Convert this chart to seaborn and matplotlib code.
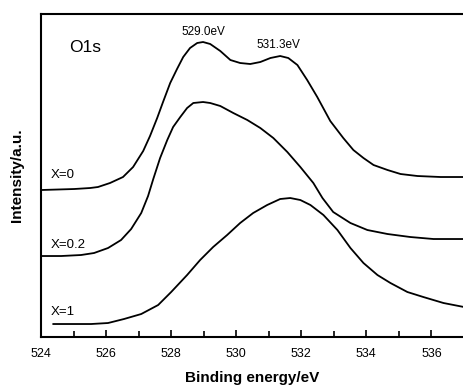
import numpy as np
import pandas as pd
import matplotlib
matplotlib.use("Agg")
import matplotlib.pyplot as plt
import seaborn as sns
from matplotlib.ticker import MultipleLocator

# O1s XPS spectra (intensity in arbitrary units)
e_x0 = [524.00, 525.02, 525.51, 525.75, 526.12, 526.52, 526.83, 527.14, 527.35, 527.57,
        527.75, 527.97, 528.18, 528.37, 528.58, 528.80, 528.98, 529.20, 529.51, 529.82,
        530.12, 530.43, 530.74, 531.05, 531.35, 531.60, 531.88, 532.18, 532.49, 532.89,
        533.29, 533.60, 533.91, 534.22, 534.65, 535.05, 535.57, 536.28, 537.00]
i_x0 = [147, 148, 149, 150, 154, 160, 170, 186, 201, 219,
        235, 254, 268, 280, 289, 294, 295, 293, 286, 277,
        274, 273, 275, 279, 281, 279, 272, 257, 240, 216,
        199, 187, 179, 172, 167, 163, 161, 160, 160]

e_x02 = [524.00, 524.62, 525.23, 525.63, 526.06, 526.46, 526.77, 527.08, 527.29, 527.45,
         527.66, 527.88, 528.06, 528.28, 528.49, 528.68, 528.98, 529.20, 529.51, 529.91,
         530.34, 530.74, 531.14, 531.57, 531.97, 532.37, 532.65, 532.98, 533.51, 534.03,
         534.65, 535.35, 536.06, 537.00]
i_x02 = [81, 81, 82, 84, 89, 97, 108, 124, 141, 158,
         179, 197, 210, 220, 229, 234, 235, 234, 231, 224,
         217, 209, 199, 185, 170, 154, 139, 125, 114, 107,
         103, 100, 98, 98]

e_x1 = [524.37, 525.02, 525.54, 526.06, 526.55, 527.08, 527.60, 528.00, 528.49, 528.89,
        529.29, 529.72, 530.12, 530.52, 530.95, 531.35, 531.66, 531.97, 532.28, 532.68,
        533.11, 533.51, 533.91, 534.34, 534.74, 535.26, 535.75, 536.37, 537.00]
i_x1 = [13, 13, 13, 14, 18, 23, 32, 45, 62, 77,
        90, 102, 114, 124, 132, 138, 139, 137, 132, 122,
        107, 89, 74, 62, 54, 45, 40, 34, 30]

samples = ["X=0", "X=0.2", "X=1"]
peak_labels = ["529.0eV", "531.3eV"]

df = pd.concat([
    pd.DataFrame({"energy": e_x0, "intensity": i_x0, "sample": samples[0]}),
    pd.DataFrame({"energy": e_x02, "intensity": i_x02, "sample": samples[1]}),
    pd.DataFrame({"energy": e_x1, "intensity": i_x1, "sample": samples[2]}),
])

sns.set_style("ticks")
plt.rcParams["font.family"] = ["Liberation Sans", "DejaVu Sans"]
plt.rcParams["text.color"] = "black"
plt.rcParams["axes.labelcolor"] = "black"
plt.rcParams["xtick.color"] = "black"

fig = plt.figure(figsize=(4.64, 3.88), dpi=100)
ax = fig.add_axes([0.0884, 0.1314, 0.9116, 0.8325])

sns.lineplot(data=df, x="energy", y="intensity", units="sample", estimator=None,
             color="black", linewidth=1.3, sort=False, ax=ax, legend=False)

ax.set_xlim(524, 537)
ax.set_ylim(0, 323)
ax.xaxis.set_major_locator(MultipleLocator(2))
ax.xaxis.set_minor_locator(MultipleLocator(1))
ax.set_yticks([])
ax.tick_params(axis="x", which="major", direction="in", length=5, width=1.2,
               labelsize=9, pad=8)
ax.tick_params(axis="x", which="minor", direction="in", length=4, width=1.2)
ax.spines["right"].set_visible(False)
for s in ["left", "top", "bottom"]:
    ax.spines[s].set_linewidth(1.5)
    ax.spines[s].set_color("black")

ax.set_xlabel("Binding energy/eV", fontsize=11, fontweight="bold", labelpad=8)
ax.set_ylabel("Intensity/a.u.", fontsize=11, fontweight="bold", labelpad=12)

ax.text(524.85, 290, "O1s", fontsize=12.5, va="center", ha="left")
ax.text(529.0, 305, peak_labels[0], fontsize=8.5, ha="center", va="center")
ax.text(531.3, 292, peak_labels[1], fontsize=8.5, ha="center", va="center")
ax.text(524.3, 162, samples[0], fontsize=9.5, ha="left", va="center")
ax.text(524.3, 92, samples[1], fontsize=9.5, ha="left", va="center")
ax.text(524.3, 25, samples[2], fontsize=9.5, ha="left", va="center")

fig.savefig("out.png", dpi=100)
